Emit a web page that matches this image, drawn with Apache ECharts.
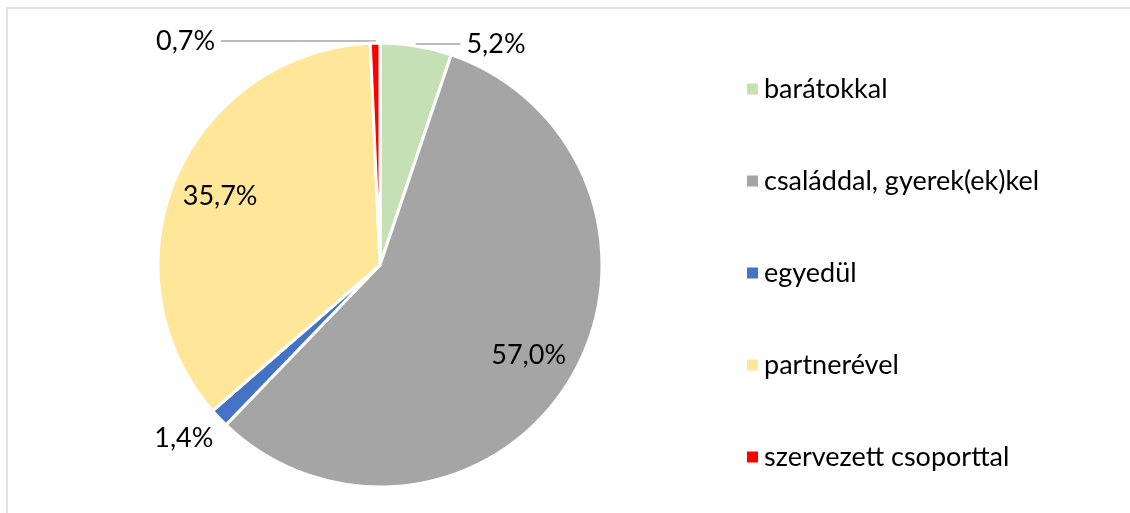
<!DOCTYPE html>
<html>
<head>
<meta charset="utf-8">
<script src="https://cdn.jsdelivr.net/npm/echarts@6/dist/echarts.min.js"></script>
<style>
  html, body { margin: 0; padding: 0; background: #fff; }
  #chart-container { width: 1130px; height: 513px; }
</style>
</head>
<body>
<div id="chart-container"></div>
<script>
// adatok
const categories = ["barátokkal", "családdal, gyerek(ek)kel", "egyedül", "partnerével", "szervezett csoporttal"];
const values = [5.2, 57.0, 1.4, 35.7, 0.7];
const colors = ["#C5E0B4", "#A5A5A5", "#4472C4", "#FFE699", "#FF0000"];
// melyik címke van kívül / belül
const insideLabel = [false, true, false, true, false];

const chart = echarts.init(document.getElementById("chart-container"));
const font = "Lato";
const fmt = (v) => v.toFixed(1).replace(".", ",") + "%";

// kívüli címkék vonalai
const outerLine = [
  { show: true, length: 2, length2: 44 },
  { show: false },
  { show: false, length: 30, length2: -22 },
  { show: false },
  { show: true, length: 2, length2: 154 },
];

const mainData = categories.map((name, i) => ({
  name: name,
  value: values[i],
  itemStyle: { color: colors[i] },
  label: { show: !insideLabel[i] },
  labelLine: outerLine[i],
}));

// átlátszó gyűrű a belső címkékhez
const labelData = values.map((v, i) => ({
  value: v,
  itemStyle: { color: "rgba(0,0,0,0)" },
  label: { show: insideLabel[i] },
}));

const option = {
  animation: false,
  backgroundColor: "#fff",
  graphic: [
    {
      type: "rect",
      shape: { x: 7, y: 8, width: 1300, height: 700 },
      style: { fill: "none", stroke: "#d9d9d9", lineWidth: 1.5 },
      silent: true,
    },
  ],
  legend: {
    orient: "vertical",
    left: 740,
    top: 69,
    data: categories,
    icon: "rect",
    itemWidth: 13,
    itemHeight: 13,
    itemGap: 62,
    textStyle: { fontFamily: font, fontSize: 27, color: "#000", lineHeight: 30 },
  },
  series: [
    {
      type: "pie",
      center: [380, 265],
      radius: [0, 222],
      startAngle: 90,
      clockwise: true,
      avoidLabelOverlap: false,
      itemStyle: { borderColor: "#fff", borderWidth: 3 },
      label: {
        position: "outside",
        formatter: (p) => fmt(p.value),
        fontFamily: font,
        fontSize: 27,
        color: "#000",
        distanceToLabelLine: 6,
      },
      labelLine: { lineStyle: { color: "#A6A6A6", width: 1.5 }, smooth: false },
      emphasis: { disabled: true },
      data: mainData,
    },
    {
      type: "pie",
      silent: true,
      center: [380, 265],
      radius: [120, 222],
      startAngle: 90,
      clockwise: true,
      avoidLabelOverlap: false,
      label: {
        position: "inside",
        formatter: (p) => fmt(p.value),
        fontFamily: font,
        fontSize: 27,
        color: "#000",
      },
      labelLine: { show: false },
      emphasis: { disabled: true },
      data: labelData,
    },
  ],
};

chart.setOption(option);
</script>
</body>
</html>
